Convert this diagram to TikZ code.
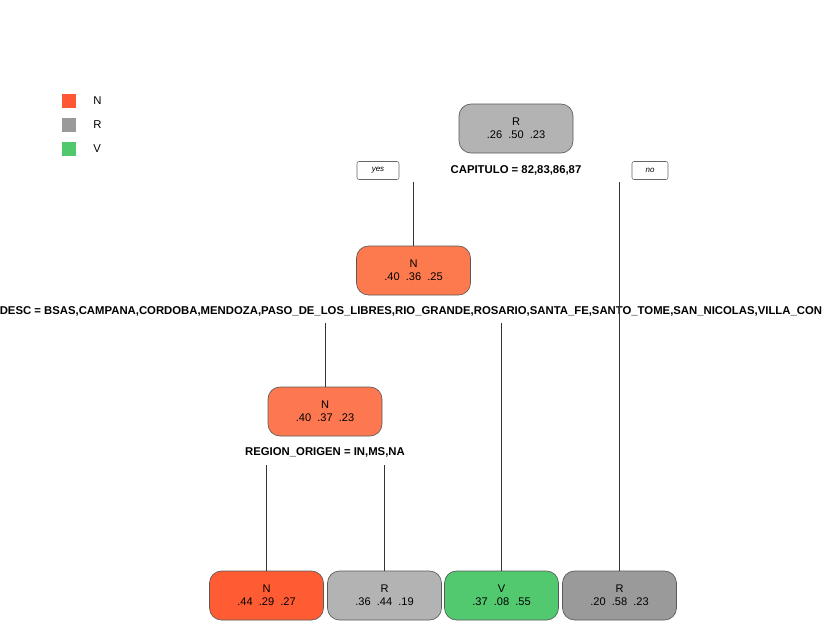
\documentclass[tikz,border=0pt]{standalone}
\usepackage{fontspec}
\setmainfont{Liberation Sans}
\begin{document}
\begin{tikzpicture}[x=0.75pt,y=-0.75pt,
  box/.style={draw=black!65,line width=0.5pt,rounded corners=9pt,minimum width=85.5pt,minimum height=36.75pt,
    align=center,font=\fontsize{8.3}{10}\selectfont,inner sep=0pt},
  tag/.style={draw=black!60,line width=0.4pt,rounded corners=1.5pt,minimum height=13.5pt,
    font=\fontsize{6}{7}\itshape\selectfont,inner sep=0pt},
  split/.style={font=\fontsize{8.5}{10}\bfseries\selectfont,inner sep=0pt},
  branch/.style={draw=black!80,line width=0.45pt},
  key/.style={minimum size=10pt,inner sep=0pt},
  keytext/.style={font=\fontsize{8.5}{10}\selectfont,anchor=west,inner sep=0pt}]
\useasboundingbox (0,0) rectangle (823,642);
\clip (0,0) rectangle (823,642);
\definecolor{cN1}{HTML}{FD7A4E}
\definecolor{cN2}{HTML}{FD7850}
\definecolor{cNleaf}{HTML}{FF5C33}
\definecolor{cRroot}{HTML}{B3B3B3}
\definecolor{cRleaf}{HTML}{B3B3B3}
\definecolor{cRdark}{HTML}{9A9A9A}
\definecolor{cV}{HTML}{52C96E}
\definecolor{kN}{HTML}{FF5733}
\definecolor{kR}{HTML}{9A9A9A}
\definecolor{kV}{HTML}{52C86E}

% legend
\node[key,fill=kN] (kn) at (69,101) {};
\node[key,fill=kR] (kr) at (69,125) {};
\node[key,fill=kV] (kv) at (69,149) {};
\node[keytext] (tn) at (93,101) {N};
\node[keytext] (tr) at (93,125) {R};
\node[keytext] (tv) at (93,149) {V};

% nodes
\node[box,fill=cRroot] (root) at (516,128.5) {R\\.26\ \ .50\ \ .23};
\node[box,fill=cN1] (n2) at (413.5,270.5) {N\\.40\ \ .36\ \ .25};
\node[box,fill=cN2] (n4) at (325,411.5) {N\\.40\ \ .37\ \ .23};
\node[box,fill=cNleaf] (l1) at (266.5,595.5) {N\\.44\ \ .29\ \ .27};
\node[box,fill=cRleaf] (l2) at (384.5,595.5) {R\\.36\ \ .44\ \ .19};
\node[box,fill=cV] (l3) at (501.5,595.5) {V\\.37\ \ .08\ \ .55};
\node[box,fill=cRdark] (l4) at (619.5,595.5) {R\\.20\ \ .58\ \ .23};

% split labels
\node[split] (s1) at (516,170) {CAPITULO = 82,83,86,87};
\node[split,anchor=west] (s2) at (-0.5,311) {DESC = BSAS,CAMPANA,CORDOBA,MENDOZA,PASO\_DE\_LOS\_LIBRES,RIO\_GRANDE,ROSARIO,SANTA\_FE,SANTO\_TOME,SAN\_NICOLAS,VILLA\_CON};
\node[split] (s3) at (325,452) {REGION\_ORIGEN = IN,MS,NA};

% yes / no tags
\node[tag,minimum width=31.5pt] (yes) at (378,170.5) {yes};
\node[tag,minimum width=27pt] (no) at (650,170.5) {no};

% branch start levels
\coordinate (b1) at (0,182);
\coordinate (b2) at (0,323);
\coordinate (b3) at (0,465);

% branches
\draw[branch] (n2.north |- b1) -- (n2.north);
\draw[branch] (l4.north |- b1) -- (l4.north);
\draw[branch] (n4.north |- b2) -- (n4.north);
\draw[branch] (l3.north |- b2) -- (l3.north);
\draw[branch] (l1.north |- b3) -- (l1.north);
\draw[branch] (l2.north |- b3) -- (l2.north);
\end{tikzpicture}
\end{document}
